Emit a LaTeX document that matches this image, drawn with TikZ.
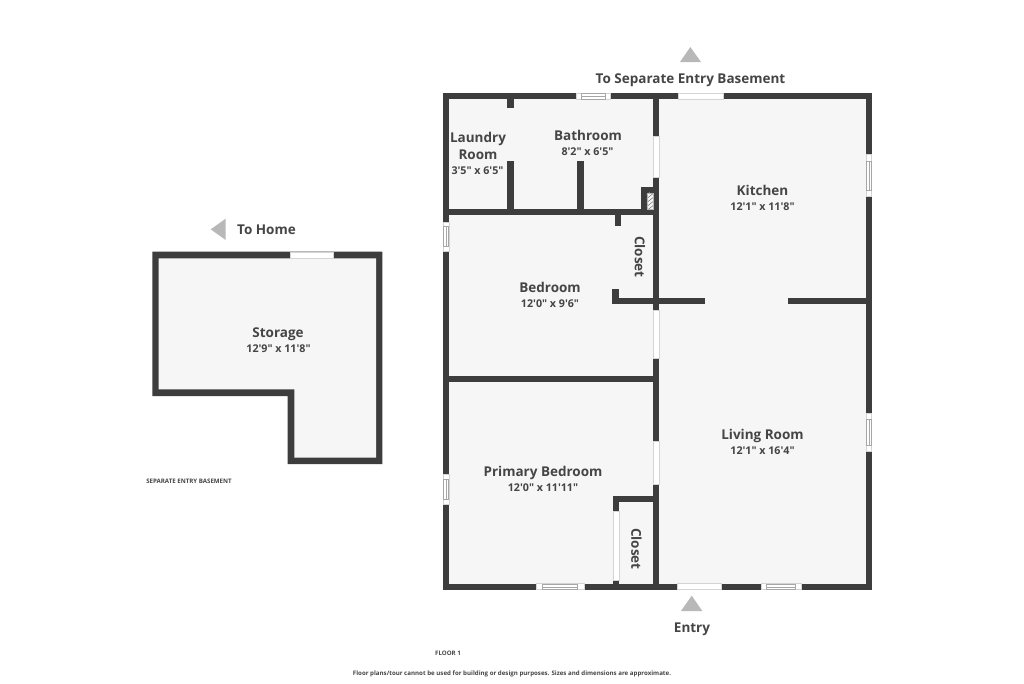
\documentclass[tikz,border=0pt]{standalone}
\usepackage{fontspec}
\newfontfamily\labelfont{Open Sans}
\definecolor{wallc}{HTML}{3D3D3D}
\definecolor{floorc}{HTML}{F6F6F6}
\definecolor{textc}{HTML}{454545}
\definecolor{arrowc}{HTML}{B8B8B8}
\definecolor{framec}{HTML}{D4D4D4}
\tikzset{
  wall/.style={fill=wallc,draw=none},
  floorarea/.style={fill=floorc,draw=none},
  opening/.style={fill=white,draw=framec,line width=0.7pt},
  pane/.style={fill=white,draw=gray!70,line width=0.45pt},
  marker/.style={fill=arrowc,draw=none},
  roomname/.style={text=textc,font=\labelfont\bfseries\fontsize{13.5}{17}\selectfont,inner sep=0pt,align=center},
  roomsize/.style={text=textc,font=\labelfont\bfseries\fontsize{10.7}{13}\selectfont,inner sep=0pt},
  fine/.style={text=textc,font=\labelfont\bfseries\fontsize{6.15}{7}\selectfont,inner sep=0pt},
}
\newcommand{\wallbox}[4]{\fill[wall] (#1,#2) rectangle (#3,#4);}
\newcommand{\openbox}[4]{\draw[opening] (#1,#2) rectangle (#3,#4);}
\newcommand{\hwin}[6]{\draw[opening] (#1,#2) rectangle (#3,#4);\draw[pane] (#5,#2+0.4) rectangle (#6,#4-0.4);\draw[pane] (#5,#2/2+#4/2) -- (#6,#2/2+#4/2);}
\newcommand{\vwin}[6]{\draw[opening] (#1,#2) rectangle (#3,#4);\draw[pane] (#1+0.4,#5) rectangle (#3-0.4,#6);\draw[pane] (#1/2+#3/2,#5) -- (#1/2+#3/2,#6);}
\begin{document}
\begin{tikzpicture}[x=1pt,y=-1pt]
\useasboundingbox (0,0) rectangle (1024,683);
\fill[white] (0,0) rectangle (1024,683);
% main floor
\fill[floorarea] (443,93) rectangle (872,590);
\wallbox{443}{93}{872}{99.3}
\wallbox{443}{583.5}{872}{590}
\wallbox{443}{93}{449}{590}
\wallbox{865.8}{93}{872}{590}
\wallbox{653.3}{93}{659.3}{590}
\wallbox{443}{208.7}{659}{214.7}
\wallbox{443}{376}{659}{382}
\wallbox{507.3}{93}{513.7}{107.7}
\wallbox{507.3}{160.7}{513.7}{209}
\wallbox{577.3}{160.7}{583.7}{209}
\wallbox{615}{209}{621.3}{226}
\wallbox{612.3}{298.3}{705.3}{304.3}
\wallbox{612.3}{289.3}{618.5}{304.3}
\wallbox{787.7}{298.3}{866}{304.3}
\wallbox{612.7}{496}{659}{502.3}
\wallbox{612.7}{496}{619}{511}
\wallbox{612.7}{580}{619}{590}
\wallbox{641}{186.7}{659}{212}
\fill[floorc] (646.7,192.7) rectangle (653,209);
\begin{scope}
\clip (646.7,192.7) rectangle (653,209);
\foreach \k in {0,4,...,24}{\draw[gray,line width=0.6pt] (645,196+\k) -- (655,188+\k);}
\end{scope}
\draw[gray!60,line width=0.4pt] (646.7,192.7) rectangle (653,209);
% openings
\openbox{653.3}{136}{659.3}{177.3}
\openbox{653.3}{310}{659.3}{358.3}
\openbox{653.3}{441.5}{659.3}{484}
\openbox{612.9}{511}{618.9}{580}
\openbox{678}{93.2}{723}{99.2}
\openbox{677}{583.7}{721.5}{589.8}
% windows
\hwin{576}{93.2}{610.5}{99.2}{581.7}{605}
\hwin{536}{583.7}{584}{589.8}{542.3}{577.7}
\hwin{761}{583.7}{801}{589.8}{766}{795.7}
\vwin{443.2}{222}{449}{251}{226.7}{246}
\vwin{443.2}{474}{449}{504.3}{479}{499.3}
\vwin{866}{154.3}{871.8}{196.7}{161}{190.7}
\vwin{866}{413.3}{871.8}{451.7}{419.3}{445.7}
% storage
\fill[wall] (152.3,251.7) -- (382.3,251.7) -- (382.3,464) -- (287.7,464) -- (287.7,396) -- (152.3,396) -- cycle;
\fill[floorarea] (158.7,258.3) -- (376,258.3) -- (376,457.7) -- (294.3,457.7) -- (294.3,389.3) -- (158.7,389.3) -- cycle;
\openbox{290.7}{252}{333.3}{258}
% markers
\fill[marker] (690.3,47) -- (701,62) -- (680,62) -- cycle;
\fill[marker] (691.7,595.7) -- (702.3,611) -- (681,611) -- cycle;
\fill[marker] (210.7,229.3) -- (225.7,218.7) -- (225.7,240) -- cycle;
% labels
\node[roomname] (toBasement) at (690.5,80) {To Separate Entry Basement};
\node[roomname] (toHome) at (266.5,230) {To Home};
\node[roomname] (entry) at (692,629) {Entry};
\node[roomname] (laundry) at (478,145.7) {Laundry\\Room};
\node[roomsize] (laundryS) at (477.5,171) {3'5" x 6'5"};
\node[roomname] (bath) at (588,135.4) {Bathroom};
\node[roomsize] (bathS) at (587.5,152) {8'2" x 6'5"};
\node[roomname] (kitchen) at (762.5,190.4) {Kitchen};
\node[roomsize] (kitchenS) at (762.5,207) {12'1" x 11'8"};
\node[roomname] (bed) at (550,287.4) {Bedroom};
\node[roomsize] (bedS) at (550,304) {12'0" x 9'6"};
\node[roomname,rotate=-90] (closetA) at (640,257) {Closet};
\node[roomname,rotate=-90] (closetB) at (636.5,549) {Closet};
\node[roomname] (living) at (762.5,435.5) {Living Room};
\node[roomsize] (livingS) at (762.5,451) {12'1" x 16'4"};
\node[roomname] (primary) at (543,472.5) {Primary Bedroom};
\node[roomsize] (primaryS) at (543,487.5) {12'0" x 11'11"};
\node[roomname] (storage) at (278,334) {Storage};
\node[roomsize] (storageS) at (278.5,348.5) {12'9" x 11'8"};
\node[fine] (basement) at (189,481.5) {SEPARATE ENTRY BASEMENT};
\node[fine] (floorone) at (448,653) {FLOOR 1};
\node[fine] (note) at (512,673.5) {Floor plans/tour cannot be used for building or design purposes. Sizes and dimensions are approximate.};
\end{tikzpicture}
\end{document}
